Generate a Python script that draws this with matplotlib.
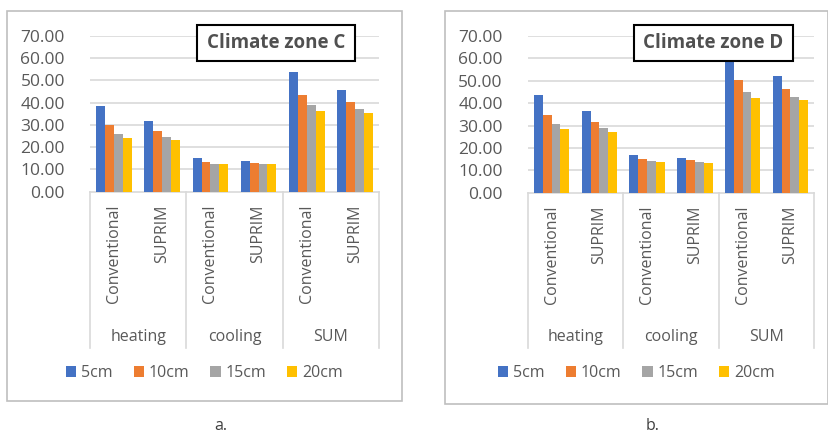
import matplotlib
matplotlib.use("Agg")
import matplotlib.pyplot as plt
from matplotlib.patches import Rectangle, Patch
from matplotlib.lines import Line2D
import numpy as np

plt.rcParams['font.family'] = ['Open Sans', 'DejaVu Sans']

groups = ["heating", "cooling", "SUM"]
systems = ["Conventional", "SUPRIM"]
series = ["5cm", "10cm", "15cm", "20cm"]
colors = ["#4472C4", "#ED7D31", "#A5A5A5", "#FFC000"]
yticks = [0, 10, 20, 30, 40, 50, 60, 70]

# zone C: rows = categories (heating-Conv, heating-SUPRIM, cooling-Conv, cooling-SUPRIM, SUM-Conv, SUM-SUPRIM)
zoneC_5 = [38.5, 31.8, 15.2, 14.0, 53.8, 45.7]
zoneC_10 = [30.0, 27.2, 13.5, 13.1, 43.6, 40.2]
zoneC_15 = [26.1, 24.6, 12.6, 12.6, 38.9, 37.2]
zoneC_20 = [24.0, 23.2, 12.6, 12.3, 36.4, 35.5]

zoneD_5 = [43.6, 36.5, 17.0, 15.4, 60.6, 52.1]
zoneD_10 = [34.7, 31.4, 14.9, 14.5, 50.2, 46.4]
zoneD_15 = [30.5, 28.7, 14.0, 13.6, 45.0, 42.9]
zoneD_20 = [28.4, 27.1, 13.6, 13.1, 42.4, 41.4]

W, H = 829, 433
fig = plt.figure(figsize=(W / 100, H / 100), dpi=100)
fig.patch.set_facecolor("white")

TXT = "#595959"
FS = 11.5


def px(x0, ytop, x1, ybot):
    return [x0 / W, (H - ybot) / H, (x1 - x0) / W, (ybot - ytop) / H]


def draw_chart(box, ax_rect, data, title, title_box, caption, cap_xy):
    bx0, by0, bx1, by1 = box
    fig.patches.append(Rectangle((bx0 / W, (H - by1) / H), (bx1 - bx0) / W, (by1 - by0) / H,
                                 transform=fig.transFigure, fill=False, edgecolor="#BFBFBF",
                                 lw=1.2, zorder=0))
    ax = fig.add_axes(px(*ax_rect))
    ax.set_facecolor("none")
    n = len(data[0])
    x = np.arange(n)
    bw = 0.185
    for i, (vals, c) in enumerate(zip(data, colors)):
        ax.bar(x + (i - 1.5) * bw, vals, width=bw, color=c, zorder=3, label=series[i])
    ax.set_xlim(-0.5, n - 0.5)
    ax.set_ylim(0, 70)
    ax.set_yticks(yticks)
    ax.set_yticklabels([f"{v:.2f}" for v in yticks], color=TXT, fontsize=12.5)
    ax.tick_params(axis="y", length=0, pad=18)
    ax.tick_params(axis="x", length=0, labelbottom=False)
    for s in ["left", "right", "top"]:
        ax.spines[s].set_visible(False)
    ax.spines["bottom"].set_color("#D9D9D9")
    ax.spines["bottom"].set_linewidth(1.2)
    for v in yticks[1:]:
        ax.axhline(v, color="#D9D9D9", lw=1.2, zorder=1)
    tr = ax.get_xaxis_transform()
    axh = (ax_rect[3] - ax_rect[1])
    def yax(ypix):
        return (ax_rect[3] - ypix) / axh
    # category labels
    for k in range(n):
        ax.text(x[k], yax(ax_rect[3] + 13), systems[k % 2], rotation=90, ha="center", va="top",
                color=TXT, fontsize=FS, transform=tr, clip_on=False)
    for g, name in enumerate(groups):
        ax.text(2 * g + 0.5, yax(337), name, ha="center", va="center", color=TXT,
                fontsize=FS, transform=tr, clip_on=False)
    for b in np.arange(-0.5, n, 2):
        ax.add_line(Line2D([b, b], [0, yax(348)], transform=tr, color="#D9D9D9", lw=1.2,
                           clip_on=False))
    # title box
    tx0, ty0, tx1, ty1 = title_box
    fig.patches.append(Rectangle((tx0 / W, (H - ty1) / H), (tx1 - tx0) / W, (ty1 - ty0) / H,
                                 transform=fig.transFigure, facecolor="white", edgecolor="black",
                                 lw=1.5, zorder=5))
    fig.text((tx0 + tx1) / 2 / W, 1 - (ty0 + ty1) / 2 / H, title, ha="center", va="center",
             fontsize=13.5, fontweight="bold", color="#505050", zorder=6)
    # legend
    handles = [Patch(facecolor=c, edgecolor="none") for c in colors]
    fig.legend(handles, series, loc="center", bbox_to_anchor=((bx0 + bx1) / 2 / W, 1 - 373 / H),
               ncol=4, frameon=False, fontsize=FS, handlelength=0.65, handleheight=0.65,
               handletextpad=0.3, columnspacing=1.3, labelcolor=TXT, borderpad=0)
    fig.text(cap_xy[0] / W, 1 - cap_xy[1] / H, caption, ha="center", va="center",
             fontsize=11.5, color="#404040")
    return ax


draw_chart((7, 11, 402, 401), (90, 36, 379, 191.7),
           [zoneC_5, zoneC_10, zoneC_15, zoneC_20], "Climate zone C", (197, 25, 355, 61),
           "a.", (221, 426))
draw_chart((445, 11, 828, 404), (527.7, 36, 814.3, 192.7),
           [zoneD_5, zoneD_10, zoneD_15, zoneD_20], "Climate zone D", (634, 25, 793, 61),
           "b.", (653, 426))

fig.savefig("out.png", dpi=100, facecolor="white")
